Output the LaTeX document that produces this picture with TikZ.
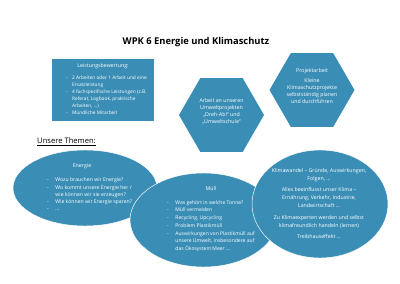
\documentclass[tikz,border=0pt]{standalone}
\usepackage{fontspec}
\setmainfont{Open Sans}
\usetikzlibrary{shapes.geometric}

\begin{document}
\begin{tikzpicture}[x=0.03cm, y=-0.03cm,
    panel/.style={fill=fillColour, draw=none, inner sep=0pt},
    blob/.style={ellipse, fill=fillColour, draw=white, line width=0.4pt, inner sep=0pt},
    hexa/.style={regular polygon, regular polygon sides=6, minimum size=2.55cm, fill=fillColour, inner sep=0pt},
    txt/.style={text=white, font=\fontsize{4.5}{6}\selectfont, inner sep=0pt},
    list/.style={txt, anchor=north west}]

    \definecolor{fillColour}{HTML}{3A8EB6}

    % Fix the page size
    \useasboundingbox (0,0) rectangle (400,283);

    % Title
    \node[font=\bfseries\fontsize{8}{10}\selectfont] (title) at (196,42) {WPK 6 Energie und Klimaschutz};

    % Grading box
    \node[panel, minimum width=3.06cm, minimum height=1.86cm] (leistung) at (103,90) {};
    \node[txt] (leistungHead) at (103,66) {Leistungsbewertung:};
    \node[list, font=\fontsize{4.1}{6}\selectfont] (leistungText) at (66,74.5) {%
        \begin{tabular}{@{}p{5pt}@{}l@{}}
        - & 2 Arbeiten oder 1 Arbeit und eine\\
          & Ersatzleistung\\
        - & 4 fachspezifische Leistungen (z.B.\\
          & Referat, Logbook, praktische\\
          & Arbeiten, \dots)\\
        - & Mündliche Mitarbeit
        \end{tabular}};

    % Hexagons
    \node[hexa] (arbeit) at (221.5,115) {};
    \node[txt, anchor=north, align=center] (arbeitText) at (221.5,98)
        {Arbeit an unseren\\Umweltprojekten\\„Dreh-Ab!“ und\\„Umweltschule“};

    \node[hexa] (projekt) at (312,90) {};
    \node[txt, anchor=north, align=center] (projektText) at (312,68)
        {Projektarbeit\\[3pt]Kleine\\Klimaschutzprojekte\\selbstständig planen\\und durchführen};

    % Topics heading
    \node[font=\fontsize{6.5}{8}\selectfont, anchor=west, inner sep=0pt] (themen) at (37,142) {\underline{Unsere Themen:}};

    % Topic ellipses
    \node[blob, minimum width=4.32cm, minimum height=2.28cm] (energie) at (85,188) {};
    \node[txt] (energieHead) at (82,166) {Energie};
    \node[list, font=\fontsize{4.4}{6.2}\selectfont] (energieText) at (47,176.5) {%
        \begin{tabular}{@{}p{7pt}@{}l@{}}
        - & Wozu brauchen wir Energie?\\
        - & Wo kommt unsere Energie her /\\
          & wie können wir sie erzeugen?\\
        - & Wie können wir Energie sparen?\\
        - & \dots
        \end{tabular}};

    \node[blob, minimum width=4.41cm, minimum height=2.82cm] (muell) at (203.5,220) {};
    \node[txt] (muellHead) at (211,189) {Müll};
    \node[list, font=\fontsize{4.3}{6.6}\selectfont] (muellText) at (167,198.5) {%
        \begin{tabular}{@{}p{7pt}@{}l@{}}
        - & Was gehört in welche Tonne?\\
        - & Müll vermeiden\\
        - & Recycling, Upcycling\\
        - & Problem Plastikmüll\\
        - & Auswirkungen von Plastikmüll auf\\
          & unsere Umwelt, insbesondere auf\\
          & das Ökosystem Meer \dots
        \end{tabular}};

    \node[blob, minimum width=4.08cm, minimum height=3.24cm] (klima) at (320,204) {};
    \node[txt, anchor=north, align=center, font=\fontsize{4.5}{6.8}\selectfont] (klimaText) at (319,168)
        {Klimawandel – Gründe, Auswirkungen,\\Folgen, \dots\\[3pt]
         Alles beeinflusst unser Klima –\\Ernährung, Verkehr, Industrie,\\Landwirtschaft \dots\\[3pt]
         Zu Klimaexperten werden und selbst\\klimafreundlich handeln (lernen)\\[3pt]
         Treibhauseffekt \dots};

\end{tikzpicture}
\end{document}
